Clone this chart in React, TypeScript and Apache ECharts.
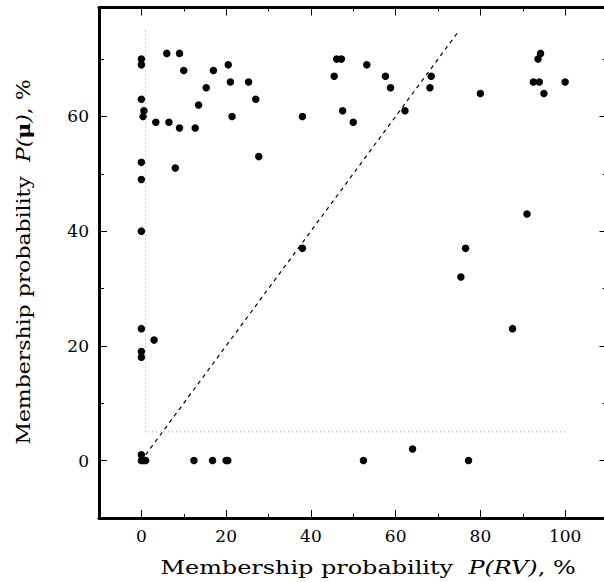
import React, { useEffect, useRef } from "react";
import * as echarts from "echarts";

const rvProb = [
  0, 0, 6, 9, 10, 17, 20.5, 21, 25.3, 15.3, 27, 0, 13.5, 0.6, 0.4, 21.4, 38, 3.4, 6.5, 9, 12.7,
  27.7, 0, 8, 0, 0, 46.1, 47.2, 45.5, 38, 53.2, 57.6, 58.8, 47.5, 50, 62.2, 68.4, 68.1, 80,
  94.2, 93.6, 92.5, 93.9, 95, 100, 91, 76.5, 0, 3, 0, 0, 0, 0, 0.5, 1, 12.4, 16.8, 20, 20.4,
  75.4, 87.6, 52.4, 64, 77.2,
];
const muProb = [
  70, 69, 71, 71, 68, 68, 69, 66, 66, 65, 63, 63, 62, 61, 60, 60, 60, 59, 59, 58, 58,
  53, 52, 51, 49, 40, 70, 70, 67, 37, 69, 67, 65, 61, 59, 61, 67, 65, 64,
  71, 70, 66, 66, 64, 66, 43, 37, 23, 21, 19, 18, 1, 0, 0, 0, 0, 0, 0, 0,
  32, 23, 0, 2, 0,
];
const xMajorTicks = [0, 20, 40, 60, 80, 100];
const xMinorTicks = [10, 30, 50, 70, 90];
const yMajorTicks = [0, 20, 40, 60];
const yMinorTicks = [10, 30, 50, 70];
const diagonalLine = [[1, 1], [75, 75]];
const cutLine = [[1, 75], [1, 5], [100, 5]];
const xTitle = "Membership probability  {i|P(RV)}, %";
const yTitle = "Membership probability  {i|P(}{b|\u03bc}{i|)}, %";

const FONT = "DejaVu Serif";

export default function App() {
  const ref = useRef<HTMLDivElement>(null);
  useEffect(() => {
    if (!ref.current) return;
    const chart = echarts.init(ref.current, null, { renderer: "svg" });
    const xMin = -10, xMax = 110, yMin = -10, yMax = 79;
    const mkX = (pos: string, ticks: number[], len: number, main: boolean) => ({
      type: "value",
      position: pos,
      min: xMin,
      max: xMax,
      splitLine: { show: false },
      axisLine: { show: main, onZero: false, lineStyle: { color: "#000", width: 3 } },
      axisTick: { show: true, inside: true, length: len, customValues: ticks, lineStyle: { color: "#000", width: 1 } },
      axisLabel: main && pos === "bottom"
        ? { show: true, customValues: xMajorTicks, color: "#000", fontFamily: FONT, fontSize: 17, margin: 10 }
        : { show: false },
    });
    const mkY = (pos: string, ticks: number[], len: number, main: boolean) => ({
      type: "value",
      position: pos,
      min: yMin,
      max: yMax,
      splitLine: { show: false },
      axisLine: { show: main && pos === "left", onZero: false, lineStyle: { color: "#000", width: 3 } },
      axisTick: { show: true, inside: true, length: len, customValues: ticks, lineStyle: { color: "#000", width: 1 } },
      axisLabel: main && pos === "left"
        ? { show: true, customValues: yMajorTicks, color: "#000", fontFamily: FONT, fontSize: 17, margin: 10 }
        : { show: false },
    });
    const rich = {
      i: { fontStyle: "italic", fontFamily: FONT, fontSize: 18, fill: "#000", color: "#000" },
      b: { fontWeight: "bold", fontFamily: FONT, fontSize: 18, fill: "#000", color: "#000" },
    };
    const titleStyle = {
      fill: "#000",
      fontFamily: FONT,
      fontSize: 18,
      align: "center",
      verticalAlign: "middle",
      textAlign: "center",
      textVerticalAlign: "middle",
      rich,
    };
    chart.setOption({
      animation: false,
      grid: {
        left: 99,
        top: 7.5,
        width: 508.5,
        height: 510.4,
        containLabel: false,
        outerBoundsMode: "none",
      },
      xAxis: [
        mkX("bottom", xMajorTicks, 8, true),
        mkX("bottom", xMinorTicks, 4, false),
        mkX("top", xMajorTicks, 8, true),
        mkX("top", xMinorTicks, 4, false),
      ],
      yAxis: [
        mkY("left", yMajorTicks, 8, true),
        mkY("left", yMinorTicks, 5, false),
        mkY("right", yMajorTicks, 8, true),
        mkY("right", yMinorTicks, 5, false),
      ],
      graphic: [
        {
          type: "text",
          x: 368,
          y: 568,
          scaleX: 1.33,
          silent: true,
          style: { ...titleStyle, text: xTitle },
        },
        {
          type: "text",
          x: 24,
          y: 262,
          rotation: Math.PI / 2,
          scaleX: 1.22,
          silent: true,
          style: { ...titleStyle, text: yTitle },
        },
      ],
      series: [
        {
          type: "line",
          data: cutLine,
          symbol: "none",
          lineStyle: { color: "#999", width: 1, type: [1, 3] },
          silent: true,
        },
        {
          type: "line",
          data: diagonalLine,
          symbol: "none",
          lineStyle: { color: "#000", width: 1.2, type: [4, 4] },
          silent: true,
        },
        {
          type: "scatter",
          data: rvProb.map((x, i) => [x, muProb[i]]),
          symbol: "circle",
          symbolSize: 7.5,
          itemStyle: { color: "#000", opacity: 1 },
        },
      ],
    });
    return () => chart.dispose();
  }, []);
  return (
    <div
      ref={ref}
      style={{ position: "absolute", left: 0, top: 0, width: 604, height: 582, background: "#fff" }}
    />
  );
}
